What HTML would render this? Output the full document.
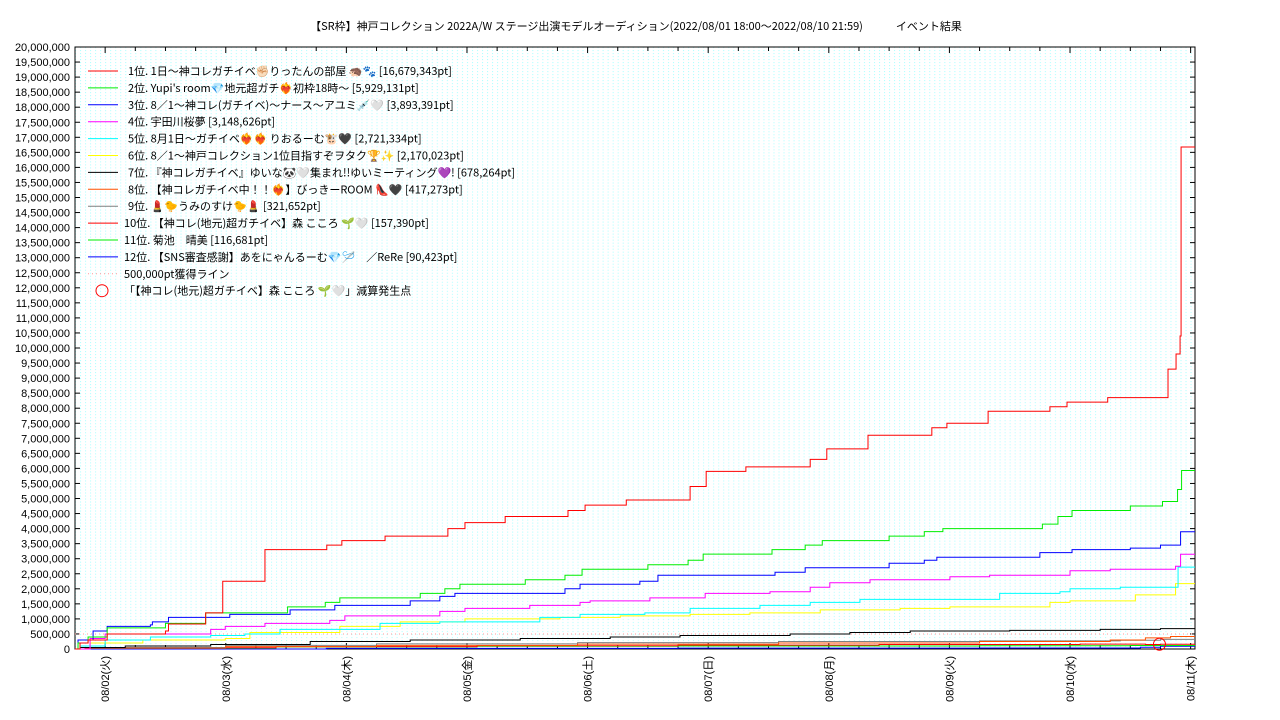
<!DOCTYPE html>
<html><head><meta charset="utf-8"><style>
html,body{margin:0;padding:0;background:#fff;}
svg{display:block;font-family:"Liberation Sans","Noto Sans CJK JP",sans-serif;}
.cjk{font-family:"Noto Sans CJK JP","Liberation Sans",sans-serif;}
</style></head><body>
<svg id="chart" width="1280" height="720" viewBox="0 0 1280 720" xmlns="http://www.w3.org/2000/svg">
<defs>
<pattern id="gridp" x="75" y="649" width="5.025" height="3.01" patternUnits="userSpaceOnUse">
<rect x="0" y="0" width="1" height="1" fill="#aff"/>
</pattern>
</defs>
<text class="cjk" x="636" y="30" font-size="11" text-anchor="middle">【SR枠】神戸コレクション 2022A/W ステージ出演モデルオーディション(2022/08/01 18:00〜2022/08/10 21:59)　　　イベント結果</text>
<rect x="75" y="47" width="1120" height="602" fill="url(#gridp)"/>
<g id="axes"></g>
<g id="series"></g>
<g id="legend" class="cjk"></g>
</svg>
<script>
const yTicks=[0,500000,1000000,1500000,2000000,2500000,3000000,3500000,4000000,4500000,5000000,5500000,6000000,6500000,7000000,7500000,8000000,8500000,9000000,9500000,10000000,10500000,11000000,11500000,12000000,12500000,13000000,13500000,14000000,14500000,15000000,15500000,16000000,16500000,17000000,17500000,18000000,18500000,19000000,19500000,20000000];
const dayLabels=["08/02(火)","08/03(水)","08/04(木)","08/05(金)","08/06(土)","08/07(日)","08/08(月)","08/09(火)","08/10(水)","08/11(木)"];
const dayHours=[6,30,54,78,102,126,150,174,198,222];
const s1=[[0,0],[1,200000],[2.6,300000],[6.4,500000],[18,600000],[18.6,830000],[26,1200000],[29.4,2250000],[37.8,3300000],[50.1,3450000],[53.1,3600000],[61.7,3750000],[74.2,4000000],[77.6,4200000],[85.6,4400000],[98.1,4600000],[101.5,4780000],[109.7,4950000],[122.4,5400000],[125.6,5900000],[133.5,6050000],[146.3,6300000],[149.6,6650000],[157.8,7100000],[170.5,7350000],[173.5,7500000],[181.7,7900000],[194,8050000],[197.4,8200000],[205.5,8350000],[217.5,9300000],[219.1,9800000],[219.9,10400000],[220.1,16679343]];
const s2=[[0,0],[0.6,200000],[2.6,400000],[6.4,700000],[18,850000],[26,1200000],[42.3,1400000],[49.8,1550000],[52.7,1700000],[68.7,1850000],[73.6,2000000],[76.6,2150000],[89.6,2300000],[97.5,2450000],[100.9,2650000],[114,2800000],[122,2950000],[125,3150000],[138.7,3300000],[145.3,3450000],[148.7,3600000],[162,3750000],[169,3900000],[172.7,4000000],[192.5,4150000],[195.6,4400000],[198.4,4600000],[210,4750000],[216.4,4900000],[219.4,5300000],[220.2,5929131]];
const s3=[[0,0],[0.6,300000],[3.6,600000],[6.4,750000],[15,800000],[15.4,900000],[18.6,1050000],[30.8,1150000],[42.8,1300000],[51.7,1450000],[66.7,1600000],[72.6,1750000],[75.6,1850000],[97.5,2000000],[100.5,2150000],[112.4,2250000],[116,2450000],[139.3,2550000],[145.3,2700000],[162,2850000],[169,2950000],[171.5,3050000],[192,3200000],[198.4,3300000],[210,3350000],[216,3450000],[220,3893391]];
const s4=[[0,0],[3,350000],[6,500000],[27,650000],[29.9,750000],[37.8,850000],[50.7,950000],[53.7,1100000],[72.6,1250000],[77.6,1350000],[90.5,1450000],[100.5,1550000],[102.5,1600000],[114.4,1700000],[125.4,1850000],[138.3,1900000],[146.3,2050000],[150.2,2200000],[158.2,2300000],[174.1,2400000],[182,2450000],[198,2600000],[206,2650000],[219,2750000],[220,3148626]];
const s5=[[0,0],[1,100000],[6,300000],[15,400000],[27,450000],[33.8,500000],[40.8,650000],[60.7,850000],[72.6,900000],[92.5,1050000],[100.5,1150000],[113.4,1200000],[122.4,1350000],[136.3,1450000],[146.3,1550000],[156.2,1650000],[184,1850000],[196,1900000],[198,2000000],[208,2050000],[219.5,2721334]];
const s6=[[0,0],[3,200000],[13.5,300000],[29.9,350000],[34.8,550000],[52.7,750000],[64.7,900000],[77.6,1000000],[96.5,1050000],[108.5,1100000],[122.4,1150000],[134.3,1200000],[148.3,1300000],[164.2,1350000],[174.1,1400000],[194,1550000],[198,1600000],[211,1800000],[219,2170023]];
const s7=[[0,0],[1,50000],[10,100000],[27,150000],[46.8,250000],[66.7,300000],[88.6,350000],[106.5,400000],[120.4,450000],[142.3,500000],[154.2,550000],[166.2,600000],[186,620000],[204,650000],[216,678264]];
const s8=[[0,0],[2,30000],[30,80000],[60,120000],[100,160000],[140,200000],[180,250000],[206,300000],[213,370000],[218,417273]];
const s9=[[0,0],[2,50000],[30,120000],[60,170000],[100,210000],[140,250000],[180,270000],[208,290000],[216,321652]];
const s10=[[0,0],[2,40000],[40,80000],[80,110000],[120,130000],[160,150000],[200,160000],[213,150000],[216,157390]];
const s11=[[0,0],[2,30000],[40,70000],[80,90000],[120,100000],[180,110000],[210,116681]];
const s12=[[0,0],[50,20000],[120,30000],[180,35000],[212,60000],[216,90423]];
const seriesNames=["1位. 1日〜神コレガチイベ✊🏻りったんの部屋 🦔🐾 [16,679,343pt]","2位. Yupi's room💎地元超ガチ❤️‍🔥初枠18時〜 [5,929,131pt]","3位. 8／1〜神コレ(ガチイベ)〜ナース〜アユミ💉🤍 [3,893,391pt]","4位. 宇田川桜夢 [3,148,626pt]","5位. 8月1日〜ガチイベ❤️‍🔥❤️‍🔥 りおるーむ🐮🖤 [2,721,334pt]","6位. 8／1〜神戸コレクション1位目指すぞヲタク🏆✨ [2,170,023pt]","7位. 『神コレガチイベ』ゆいな🐼🤍集まれ!!ゆいミーティング💜! [678,264pt]","8位. 【神コレガチイベ中！！❤️‍🔥】びっきーROOM 👠🖤 [417,273pt]","9位. 💄🐤うみのすけ🐤💄 [321,652pt]","10位. 【神コレ(地元)超ガチイベ】森 こころ 🌱🤍 [157,390pt]","11位. 菊池　晴美 [116,681pt]","12位. 【SNS審査感謝】あをにゃんるーむ💎🪡　／ReRe [90,423pt]"];
const seriesColors=["#ff0000","#00ee00","#0000ff","#ff00ff","#00ffff","#ffff00","#000000","#ff5000","#808080","#ff0000","#00ee00","#0000ff"];
const allSeries=[s1,s2,s3,s4,s5,s6,s7,s8,s9,s10,s11,s12];
const lineValue=[500000];
const markerPoint=[[215.8,157390]];

const X0=75,X1=1195,Y0=649,Y1=47,HMAX=222.87,VMAX=20000000;
const xs=h=>X0+h/HMAX*(X1-X0);
const ys=v=>Y0-v/VMAX*(Y0-Y1);
const NS="http://www.w3.org/2000/svg";
function mk(tag,attrs,parent){const e=document.createElementNS(NS,tag);for(const k in attrs)e.setAttribute(k,attrs[k]);parent.appendChild(e);return e;}
const axes=document.getElementById('axes'),ser=document.getElementById('series'),leg=document.getElementById('legend');

const l5=mk('line',{x1:X0,x2:X1,y1:ys(lineValue[0]),y2:ys(lineValue[0]),stroke:'#ff9999','stroke-dasharray':'1,3','stroke-width':1},ser);



for(let i=allSeries.length-1;i>=0;i--){
  const d=allSeries[i];let p='M'+xs(d[0][0])+','+ys(d[0][1]);
  for(let j=1;j<d.length;j++){p+=' H'+xs(d[j][0])+' V'+ys(d[j][1]);}
  p+=' H'+X1;
  const e=mk('path',{d:p,fill:'none',stroke:seriesColors[i],'stroke-width':1},ser);
  
  
}
const mc=mk('circle',{cx:xs(markerPoint[0][0]),cy:ys(markerPoint[0][1]),r:6,fill:'none',stroke:'#ff0000','stroke-width':1},ser);



const fr=mk('rect',{x:X0,y:Y1,width:X1-X0,height:Y0-Y1,fill:'none',stroke:'#000','stroke-width':1},axes);


yTicks.forEach(v=>{
  const y=ys(v);
  mk('line',{x1:X0,x2:X0+5,y1:y,y2:y,stroke:'#000'},axes);
  mk('line',{x1:X1,x2:X1-5,y1:y,y2:y,stroke:'#000'},axes);
  const t=mk('text',{x:70,y:y+4,'font-size':11,'text-anchor':'end'},axes);
  t.textContent=v.toLocaleString('en-US');
  
  
});
for(let h=0;h<=222;h+=6){
  const x=xs(h);const major=((h-6)%24===0);
  mk('line',{x1:x,x2:x,y1:Y0,y2:Y0-(major?6:4),stroke:'#000'},axes);
  mk('line',{x1:x,x2:x,y1:Y1,y2:Y1+(major?6:4),stroke:'#000'},axes);
}
dayLabels.forEach((s,i)=>{
  const x=xs(dayHours[i]);
  const t=mk('text',{x:0,y:0,'font-size':11,'text-anchor':'end',transform:`translate(${x+4},656) rotate(-90)`},axes);
  t.textContent=s;
  
  
});

const LS=16.9;
seriesNames.forEach((n,i)=>{
  const y=71+i*LS;
  const ln=mk('line',{x1:88,x2:118,y1:y,y2:y,stroke:seriesColors[i]},leg);
  
  
  const t=mk('text',{x:i<9?128:124,y:y+4,'font-size':11},leg);
  t.textContent=n;
  
  
});
const yl=71+12*LS;
const ll=mk('line',{x1:88,x2:118,y1:yl,y2:yl,stroke:'#ff9999','stroke-dasharray':'1,3'},leg);


const lt=mk('text',{x:124,y:yl+4,'font-size':11},leg);
lt.textContent='500,000pt獲得ライン';


const yc=71+13*LS;
const lc=mk('circle',{cx:102,cy:yc,r:6,fill:'none',stroke:'#ff0000'},leg);


const lct=mk('text',{x:124,y:yc+4,'font-size':11},leg);
lct.textContent='「【神コレ(地元)超ガチイベ】森 こころ 🌱🤍」減算発生点';


</script>
</body></html>
